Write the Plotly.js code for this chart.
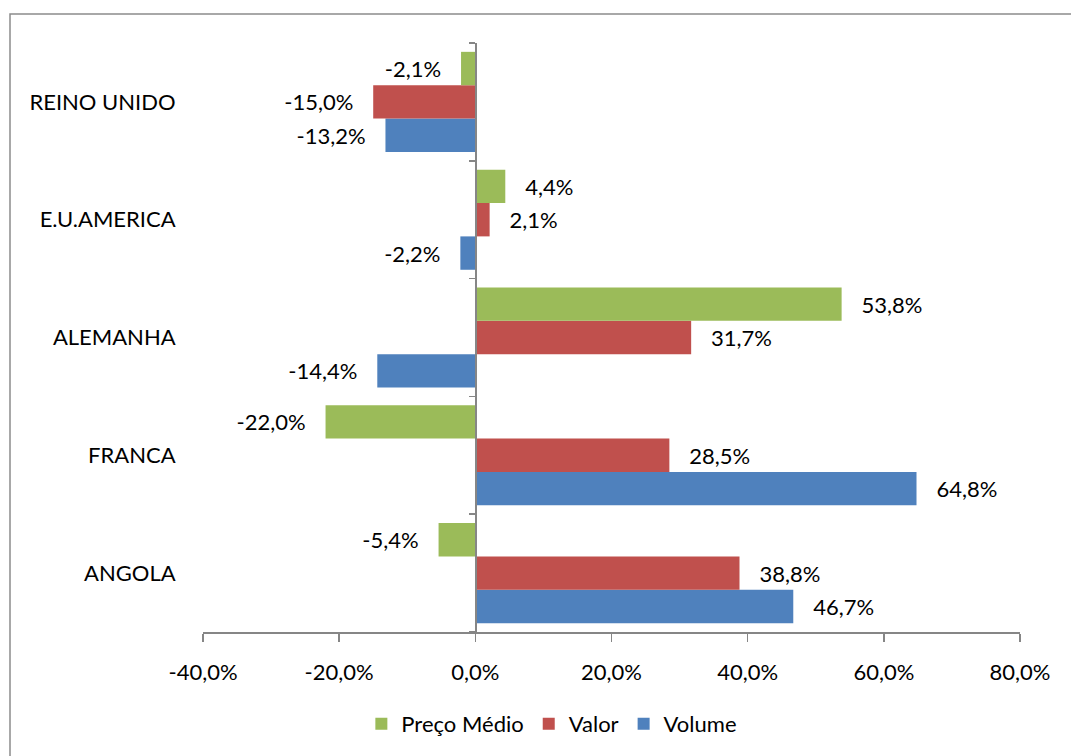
<!DOCTYPE html>
<html>
<head>
<meta charset="utf-8">
<script src="https://cdn.plot.ly/plotly-3.0.1.min.js"></script>
<style>html,body{margin:0;padding:0;background:#fff;}#chart{width:1071px;height:756px;}</style>
</head>
<body>
<div id="chart"></div>
<script>
const categories = ['ANGOLA', 'FRANCA', 'ALEMANHA', 'E.U.AMERICA', 'REINO UNIDO'];
const volume = [46.7, 64.8, -14.4, -2.2, -13.2];
const valor = [38.8, 28.5, 31.7, 2.1, -15.0];
const precoMedio = [-5.4, -22.0, 53.8, 4.4, -2.1];
const xTicks = [-40, -20, 0, 20, 40, 60, 80];

const FONT = 'Lato, "Open Sans", sans-serif';
const PAD = '\u00a0\u00a0\u00a0';
const fmt = v => v.toFixed(1).replace('.', ',').replace('\u2212', '-') + '%';
const lab = v => v < 0 ? fmt(v) + PAD : PAD + fmt(v);

function barTrace(name, vals, color) {
  return {
    type: 'bar', orientation: 'h', name: name,
    y: categories, x: vals,
    marker: {color: color, line: {width: 0}},
    text: vals.map(lab), textposition: 'outside', constraintext: 'none',
    cliponaxis: false,
    textfont: {family: FONT, size: 22, color: '#000'},
    hoverinfo: 'x+name'
  };
}

const data = [
  barTrace('Volume', volume, '#4F81BD'),
  barTrace('Valor', valor, '#C0504D'),
  barTrace('Preço Médio', precoMedio, '#9BBB59'),
  {type: 'scatter', x: [0], y: [0], yaxis: 'y2', mode: 'none', showlegend: false, hoverinfo: 'skip'}
];

const boundaries = [-0.5, 0.5, 1.5, 2.5, 3.5, 4.5];

const layout = {
  width: 1071, height: 756,
  margin: {l: 203, r: 51, t: 43, b: 123},
  paper_bgcolor: '#fff', plot_bgcolor: 'rgba(0,0,0,0)',
  font: {family: FONT, size: 22, color: '#000'},
  barmode: 'group', bargap: 0.15, bargroupgap: 0,
  showlegend: true,
  legend: {orientation: 'h', x: 0.427, xanchor: 'center', y: -0.154, yanchor: 'middle',
           traceorder: 'reversed', font: {family: FONT, size: 22, color: '#000'}, itemwidth: 30},
  xaxis: {
    range: [-40, 80], tickvals: xTicks, ticktext: xTicks.map(fmt),
    showgrid: false, zeroline: false,
    showline: true, linecolor: '#868686', linewidth: 1.5,
    ticks: 'outside', ticklen: 8, tickcolor: '#868686', tickwidth: 1.5,
    ticklabelstandoff: 12,
    tickfont: {family: FONT, size: 22, color: '#000'}
  },
  yaxis: {
    type: 'category', categoryorder: 'array', categoryarray: categories,
    range: [-0.5, 4.5],
    showgrid: false, zeroline: false, showline: false,
    ticks: 'outside', ticklen: 22, tickcolor: 'rgba(0,0,0,0)',
    tickfont: {family: FONT, size: 22, color: '#000'}
  },
  yaxis2: {
    overlaying: 'y', anchor: 'free', position: 40 / 120, side: 'left',
    range: [-0.5, 4.5], tickvals: boundaries, showticklabels: false,
    showgrid: false, zeroline: false,
    showline: true, linecolor: '#868686', linewidth: 1.5,
    ticks: 'outside', ticklen: 6, tickcolor: '#868686', tickwidth: 1.5
  },
  shapes: [{
    type: 'rect', xref: 'paper', yref: 'paper',
    x0: (10 - 203) / 817, x1: (1080 - 203) / 817,
    y0: (633 - 770) / 590, y1: (633 - 14) / 590,
    line: {color: '#8c8c8c', width: 1.5}, fillcolor: 'rgba(0,0,0,0)', layer: 'below'
  }]
};

Plotly.newPlot('chart', data, layout, {displayModeBar: false, staticPlot: true});
</script>
</body>
</html>
